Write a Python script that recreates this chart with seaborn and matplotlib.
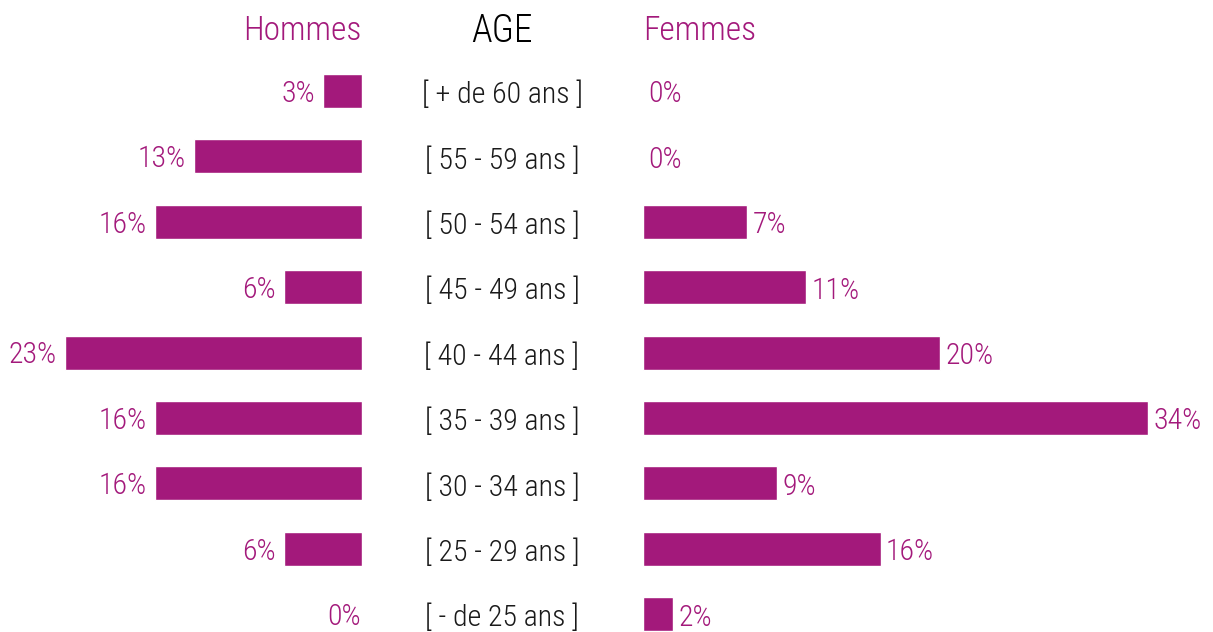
import numpy as np
import pandas as pd
import matplotlib.pyplot as plt
import seaborn as sns

sns.set_theme(style="white")
plt.rcParams['font.family'] = ['Roboto Condensed', 'Roboto', 'DejaVu Sans']

# Data
ages = ["[ + de 60 ans ]", "[ 55 - 59 ans ]", "[ 50 - 54 ans ]", "[ 45 - 49 ans ]",
        "[ 40 - 44 ans ]", "[ 35 - 39 ans ]", "[ 30 - 34 ans ]", "[ 25 - 29 ans ]",
        "[ - de 25 ans ]"]
hommes = [3, 13, 16, 6, 23, 16, 16, 6, 0]
femmes = [0, 0, 7, 11, 20, 34, 9, 16, 2]

df = pd.DataFrame({'age': ages, 'hommes': hommes, 'femmes': femmes})

purple = '#A3197B'
W, H = 1213, 632
fig = plt.figure(figsize=(W / 100, H / 100), dpi=100)

# axes placed in pixel units of the reference
ax_l = fig.add_axes([0, 0, 362 / W, 1])
ax_r = fig.add_axes([643 / W, 0, (W - 643) / W, 1])

sns.barplot(data=df, x='hommes', y='age', orient='h', color=purple,
            width=0.52, saturation=1, ax=ax_l)
sns.barplot(data=df, x='femmes', y='age', orient='h', color=purple,
            width=0.52, saturation=1, ax=ax_r)

ylim = (8.272, -1.391)
ax_l.set_xlim(28.0, 0)
ax_r.set_xlim(0, 38.4)
for ax in (ax_l, ax_r):
    ax.set_ylim(*ylim)
    ax.axis('off')

fs = 21.5
# Value labels
for i, v in enumerate(hommes):
    off = -6 if v > 0 else -1
    ax_l.annotate(f"{v}%", (v, i), xytext=(off, -2), textcoords='offset points',
                  ha='right', va='center', fontsize=fs, color=purple,
                  fontweight='light')
for i, v in enumerate(femmes):
    ax_r.annotate(f"{v}%", (v, i), xytext=(4, -2.5), textcoords='offset points',
                  ha='left', va='center', fontsize=fs, color=purple,
                  fontweight='light')

# Age labels in the middle column
for i, a in enumerate(ages):
    ax_l.annotate(a, (0, i), xytext=(502 - 362, -4), textcoords='offset pixels',
                  ha='center', va='center', fontsize=fs, color='#1a1a1a',
                  fontweight='light', annotation_clip=False)

# Headers
fig.text(362 / W, 1 - 31 / H, "Hommes", ha='right', va='center',
         fontsize=24, color=purple, fontweight='light')
fig.text(502 / W, 1 - 31 / H, "AGE", ha='center', va='center',
         fontsize=27, color='black', fontweight='light')
fig.text(643 / W, 1 - 31 / H, "Femmes", ha='left', va='center',
         fontsize=24, color=purple, fontweight='light')

fig.savefig("out.png", dpi=100)
